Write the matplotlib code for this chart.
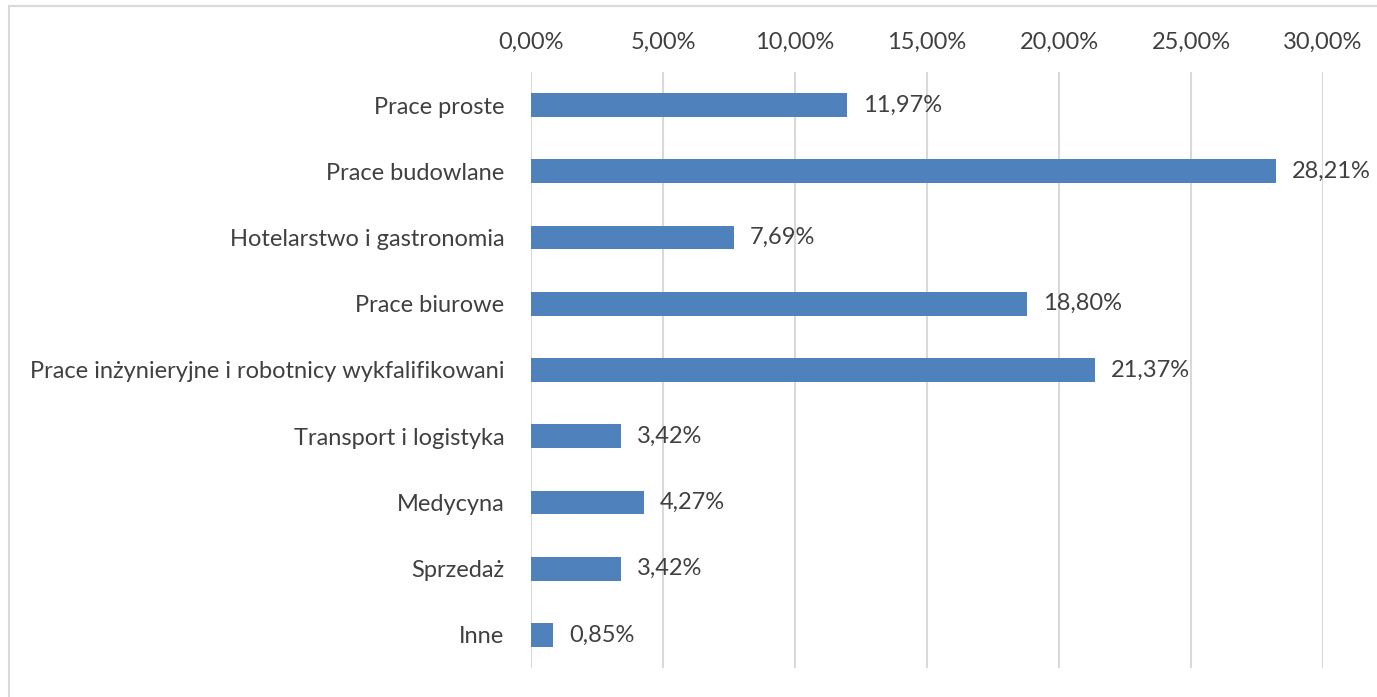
import matplotlib
matplotlib.use("Agg")
import matplotlib.pyplot as plt
from matplotlib.patches import Rectangle

categories = ["Prace proste", "Prace budowlane", "Hotelarstwo i gastronomia", "Prace biurowe",
              "Prace inżynieryjne i robotnicy wykfalifikowani", "Transport i logistyka",
              "Medycyna", "Sprzedaż", "Inne"]
values = [11.97, 28.21, 7.69, 18.80, 21.37, 3.42, 4.27, 3.42, 0.85]
xticks = [0, 5, 10, 15, 20, 25, 30]

def fmt(v):
    return f"{v:.2f}".replace(".", ",") + "%"

plt.rcParams['font.family'] = ['Lato', 'DejaVu Sans']
txt = '#404040'
W, H = 1377, 697
fig = plt.figure(figsize=(W/100, H/100), dpi=100)
fig.patches.append(Rectangle((9/W, -0.2), 1.2, 1.2 - 6/H, transform=fig.transFigure,
                             fill=False, edgecolor='#d9d9d9', linewidth=1.5))
ax = fig.add_axes([531/W, 1 - 668/H, (1323-531)/W, (668-72)/H])
y = list(range(len(categories)))
ax.barh(y, values, height=0.36, color='#4f81bd', zorder=3)
ax.set_ylim(len(categories) - 0.5, -0.5)
ax.set_xlim(0, 30)
ax.set_yticks(y)
ax.set_yticklabels(categories, fontsize=17, color=txt)
ax.set_xticks(xticks)
ax.set_xticklabels([fmt(t) for t in xticks], fontsize=17, color=txt)
ax.xaxis.tick_top()
ax.tick_params(length=0)
ax.tick_params(axis='y', pad=19)
ax.tick_params(axis='x', pad=14)
for s in ax.spines.values():
    s.set_visible(False)
ax.grid(axis='x', color='#d9d9d9', linewidth=1.5, zorder=0)
for yi, v in zip(y, values):
    ax.annotate(fmt(v), (v, yi), xytext=(16, 0), textcoords='offset pixels',
                va='center', ha='left', fontsize=17, color=txt)
fig.savefig("out.png", dpi=100)
